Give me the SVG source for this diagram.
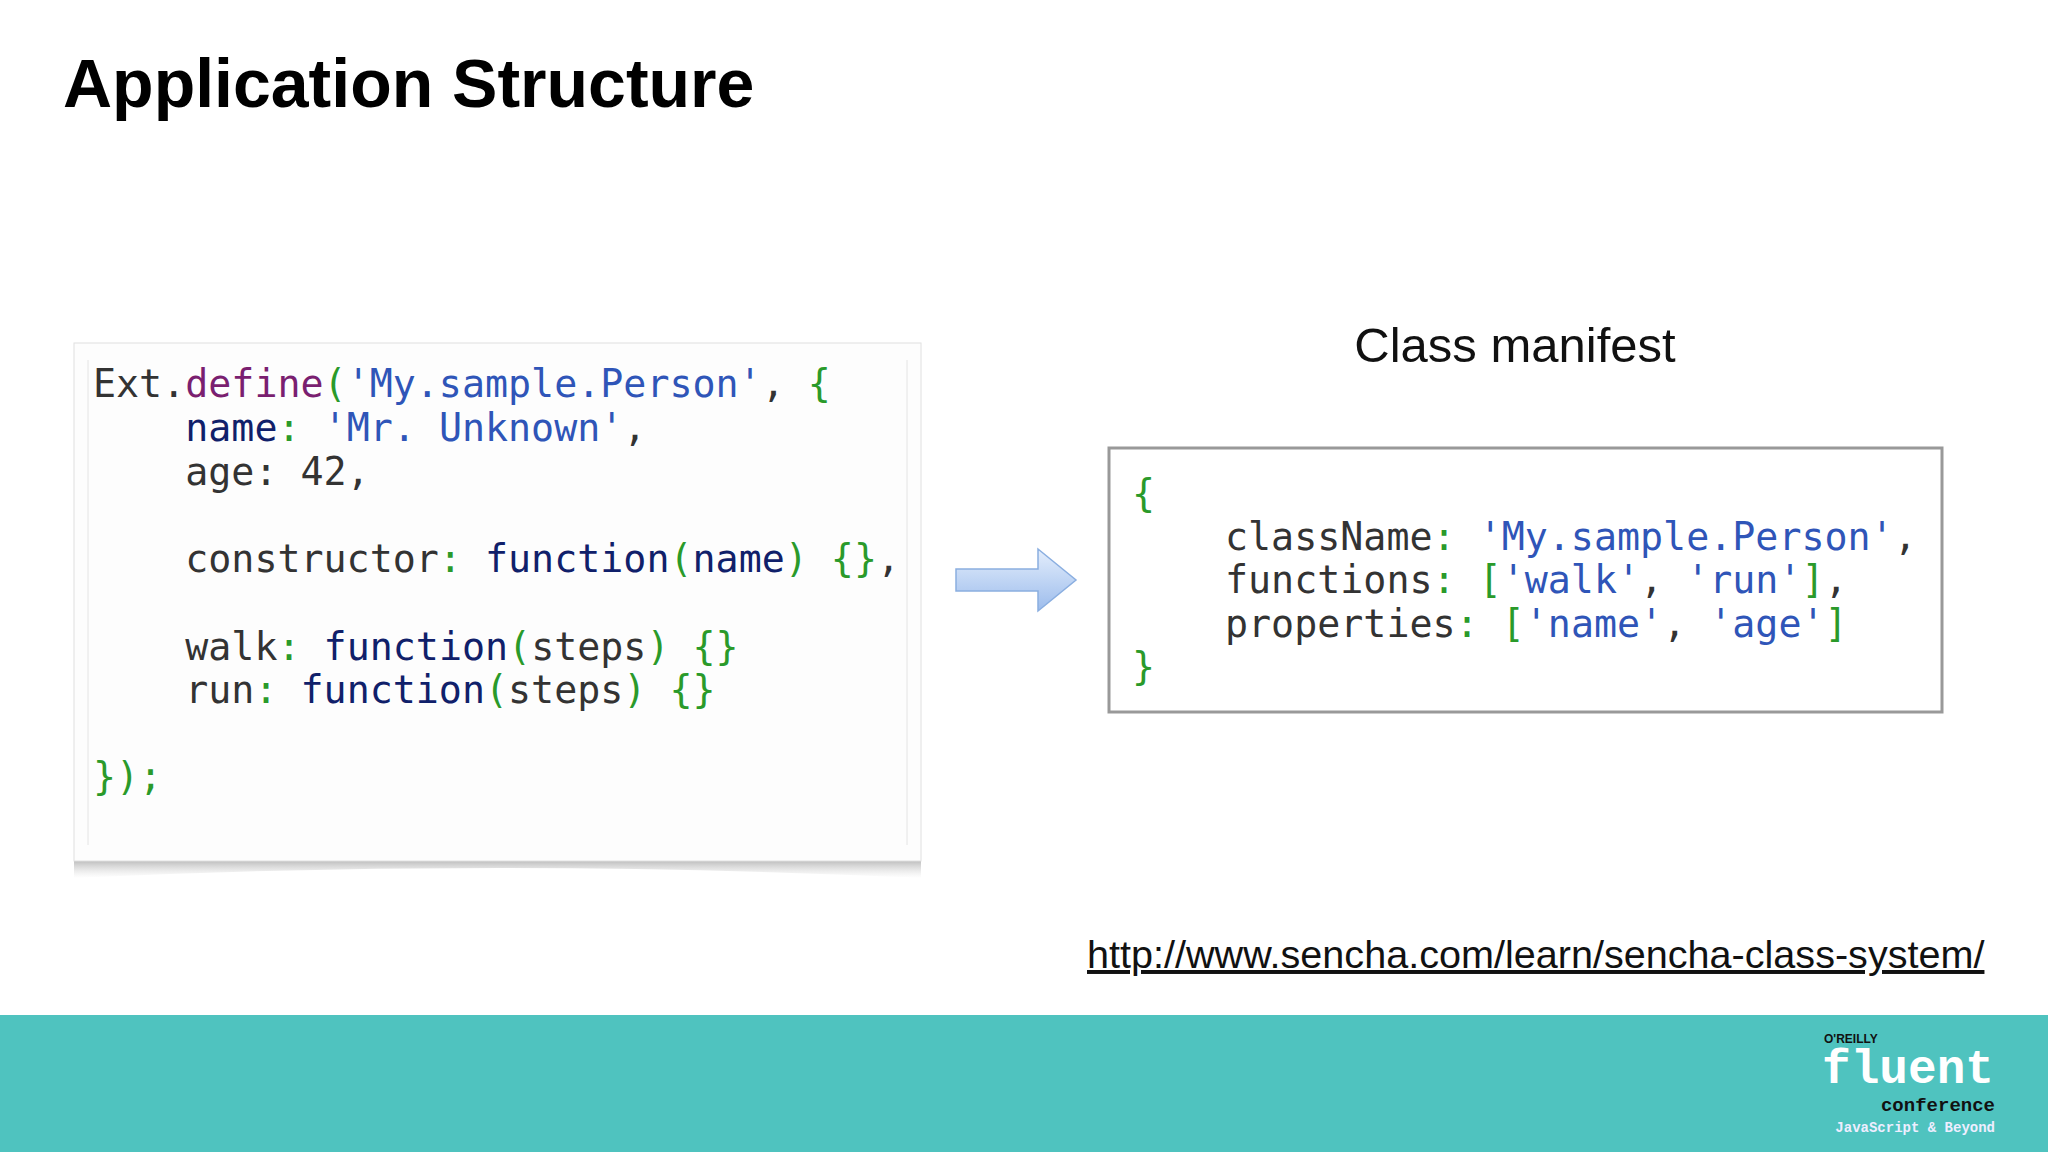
<svg xmlns="http://www.w3.org/2000/svg" width="2048" height="1152" viewBox="0 0 2048 1152">
<style>
.c{font-family:"DejaVu Sans Mono",monospace;font-size:38.3px;fill:#333;white-space:pre}
.p{fill:#2a9a2a}.s{fill:#2f55b8}.k{fill:#7a1f70}.n{fill:#10206a}
</style>
<defs>
<linearGradient id="ag" x1="0" y1="0" x2="0" y2="1"><stop offset="0" stop-color="#e4eefc"/><stop offset="1" stop-color="#9cbcec"/></linearGradient>
<linearGradient id="sh" x1="0" y1="0" x2="0" y2="1"><stop offset="0" stop-color="#888"/><stop offset="1" stop-color="#ccc" stop-opacity="0"/></linearGradient>
</defs>
<rect width="2048" height="1152" fill="#fff"/>
<text x="63" y="107" font-family="Liberation Sans,Arial,sans-serif" font-weight="bold" font-size="68" fill="#000">Application Structure</text>
<g id="code">
<path d="M74 860 Q500 845 921 860 L921 878 Q500 858 74 878Z" fill="url(#sh)"/>
<rect x="74" y="343" width="847" height="518" fill="#fdfdfd" stroke="#e0e0e0"/>
<line x1="907" y1="360" x2="907" y2="845" stroke="#e4e4e4"/>
<line x1="88" y1="360" x2="88" y2="845" stroke="#e4e4e4"/>
<text class="c" x="93" y="397">Ext.<tspan class="k">define</tspan><tspan class="p">(</tspan><tspan class="s">'My.sample.Person'</tspan>, <tspan class="p">{</tspan></text>
<text class="c" x="93" y="441">    <tspan class="n">name</tspan><tspan class="p">:</tspan> <tspan class="s">'Mr. Unknown'</tspan>,</text>
<text class="c" x="93" y="485">    age: 42,</text>
<text class="c" x="93" y="572">    constructor<tspan class="p">:</tspan> <tspan class="n">function</tspan><tspan class="p">(</tspan><tspan class="n">name</tspan><tspan class="p">) {}</tspan>,</text>
<text class="c" x="93" y="660">    walk<tspan class="p">:</tspan> <tspan class="n">function</tspan><tspan class="p">(</tspan>steps<tspan class="p">) {}</tspan></text>
<text class="c" x="93" y="703">    run<tspan class="p">:</tspan> <tspan class="n">function</tspan><tspan class="p">(</tspan>steps<tspan class="p">) {}</tspan></text>
<text class="c" x="93" y="790"><tspan class="p">});</tspan></text>
</g>
<g id="arrow">
<path d="M956 569 L1038 569 L1038 549 L1076 580 L1038 611 L1038 591 L956 591Z" fill="url(#ag)" stroke="#8aaee0" stroke-width="1.5"/>
</g>
<g id="manifest">
<text x="1515" y="362" text-anchor="middle" font-family="Liberation Sans,Arial,sans-serif" font-size="49" fill="#111">Class manifest</text>
<rect x="1109" y="448" width="833" height="264" fill="#fff" stroke="#999" stroke-width="3"/>
<text class="c" x="1132" y="507"><tspan class="p">{</tspan></text>
<text class="c" x="1225" y="550">className<tspan class="p">:</tspan> <tspan class="s">'My.sample.Person'</tspan>,</text>
<text class="c" x="1225" y="593">functions<tspan class="p">:</tspan> <tspan class="p">[</tspan><tspan class="s">'walk'</tspan>, <tspan class="s">'run'</tspan><tspan class="p">]</tspan>,</text>
<text class="c" x="1225" y="637">properties<tspan class="p">:</tspan> <tspan class="p">[</tspan><tspan class="s">'name'</tspan>, <tspan class="s">'age'</tspan><tspan class="p">]</tspan></text>
<text class="c" x="1132" y="680"><tspan class="p">}</tspan></text>
</g>
<text x="1087" y="968" font-family="Liberation Sans,Arial,sans-serif" font-size="39.6" fill="#111" text-decoration="underline">http://www.sencha.com/learn/sencha-class-system/</text>
<rect x="0" y="1015" width="2048" height="137" fill="#4fc3bf"/>
<g id="logo" font-family="Liberation Mono,monospace" font-weight="bold">
<text x="1824" y="1043" font-family="Liberation Sans,sans-serif" font-size="12" fill="#111">O'REILLY</text>
<text x="1822" y="1083" font-size="48" fill="#fff" textLength="172" lengthAdjust="spacingAndGlyphs">fluent</text>
<text x="1995" y="1111" text-anchor="end" font-size="19" fill="#111">conference</text>
<text x="1995" y="1132" text-anchor="end" font-size="14" fill="#eef">JavaScript &amp; Beyond</text>
</g>
</svg>
